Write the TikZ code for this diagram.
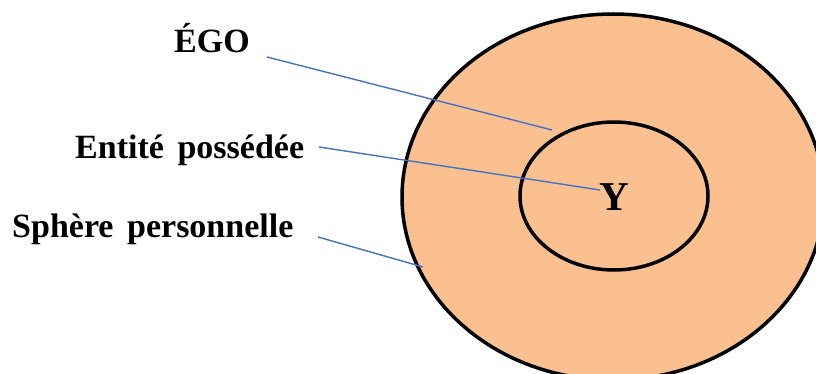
\documentclass[tikz,border=0pt]{standalone}
\usepackage{fontspec}
\setmainfont[WordSpace=1.6]{Liberation Serif}
\definecolor{ringfill}{HTML}{FAC090}
\definecolor{connblue}{HTML}{4472C4}
\begin{document}
\begin{tikzpicture}[x=1pt,y=-1pt,
  lbl/.style={font=\fontsize{34}{40}\selectfont\bfseries, inner sep=0pt, anchor=base west},
  conn/.style={draw=connblue, line width=1.4pt},
  ring/.style={draw=black, line width=3.5pt, fill=ringfill}]
\useasboundingbox (0,0) rectangle (816,374);
\clip (0,0) rectangle (816,374);
\draw[ring] (613,197) ellipse [x radius=211, y radius=183];
\draw[ring] (614,196) ellipse [x radius=94, y radius=74];
\node[lbl, anchor=base] (ego) at (212,53) {ÉGO};
\node[lbl] (ent) at (75,159) {Entité possédée};
\node[lbl] (sph) at (12,237) {Sphère personnelle};
\node[font=\fontsize{41}{48}\selectfont\bfseries, inner sep=0pt] (y) at (614,197) {Y};
\coordinate (egoS) at (267,57);
\coordinate (egoE) at (552,130);
\coordinate (entS) at (319,147);
\coordinate (entE) at (600,190);
\coordinate (sphS) at (318,237);
\coordinate (sphE) at (423,267);
\draw[conn] (egoS) -- (egoE);
\draw[conn] (entS) -- (entE);
\draw[conn] (sphS) -- (sphE);
\end{tikzpicture}
\end{document}
